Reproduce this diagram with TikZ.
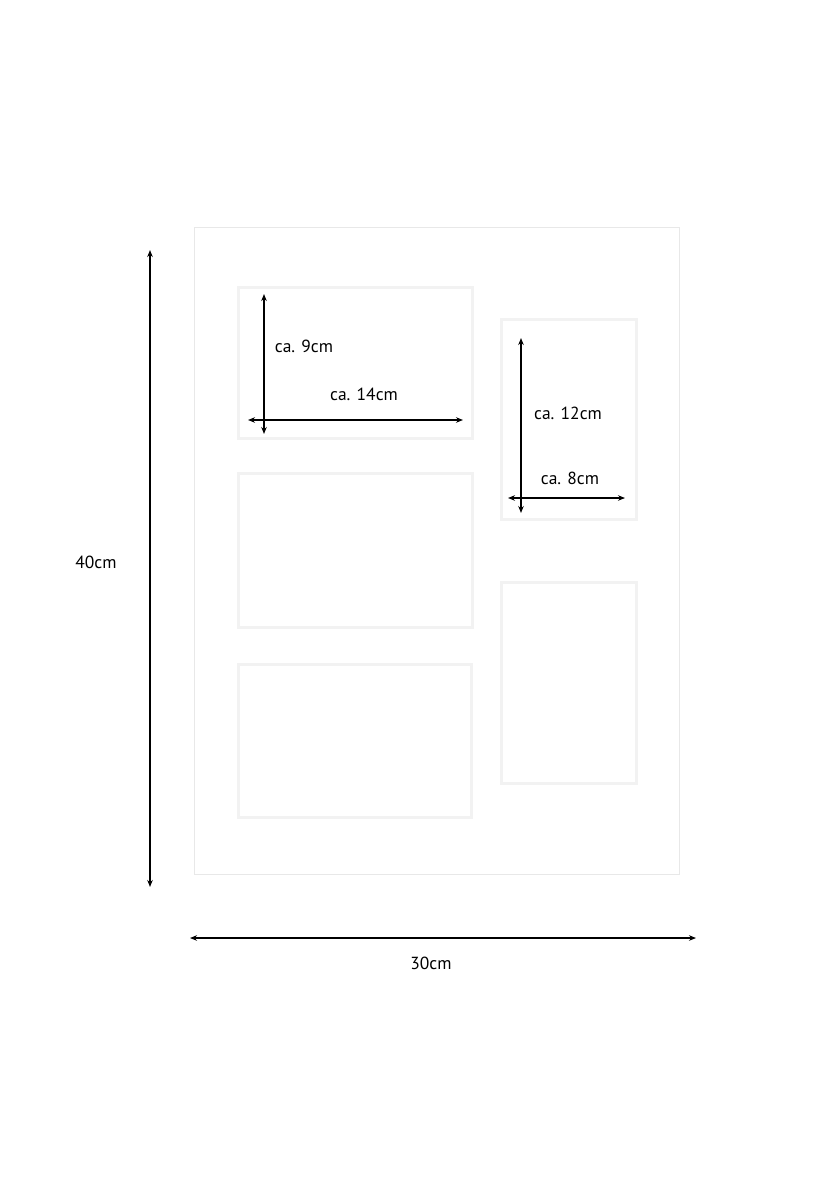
\documentclass[tikz,border=0pt]{standalone}
\usepackage{fontspec}
\setmainfont{PT Sans}
\usetikzlibrary{arrows.meta}
\begin{document}
\begin{tikzpicture}[x=1pt,y=-1pt,
  dim/.style={line width=1.8pt,{Stealth[length=7pt,width=5.5pt]}-{Stealth[length=7pt,width=5.5pt]}},
  lbl/.style={font=\fontsize{17.5}{20}\selectfont,inner sep=0pt},
  win/.style={draw=black!5,line width=3pt},
  mat/.style={draw=black!9,line width=1pt}]
\useasboundingbox (0,0) rectangle (820,1200);
\fill[white] (0,0) rectangle (820,1200);
\draw[mat] (194,227) rectangle (679,874);
\draw[win] (238.5,287.5) rectangle (472.5,438.5);
\draw[win] (501.5,319.5) rectangle (636.5,519.5);
\draw[win] (238.5,473.5) rectangle (472.5,627.5);
\draw[win] (238.5,664.5) rectangle (471.5,817.5);
\draw[win] (501.5,582.5) rectangle (636.5,783.5);
% big dims
\coordinate (vt) at (150,250); \coordinate (vb) at (150,887);
\draw[dim] (vt) -- (vb);
\node[lbl] (l40) at (96,562) {40cm};
\coordinate (hl) at (190,938); \coordinate (hr) at (696,938);
\draw[dim] (hl) -- (hr);
\node[lbl] (l30) at (431,963) {30cm};
% window 1
\coordinate (a1) at (264,294); \coordinate (a2) at (264,434);
\draw[dim] (a1) -- (a2);
\coordinate (b1) at (248,420); \coordinate (b2) at (463,420);
\draw[dim] (b1) -- (b2);
\node[lbl] (l9) at (304,346) {ca. 9cm};
\node[lbl] (l14) at (364,394) {ca. 14cm};
% window 2
\coordinate (c1) at (521,338); \coordinate (c2) at (521,513);
\draw[dim] (c1) -- (c2);
\coordinate (d1) at (508,498); \coordinate (d2) at (625,498);
\draw[dim] (d1) -- (d2);
\node[lbl] (l12) at (568,413) {ca. 12cm};
\node[lbl] (l8) at (570,478) {ca. 8cm};
\end{tikzpicture}
\end{document}
